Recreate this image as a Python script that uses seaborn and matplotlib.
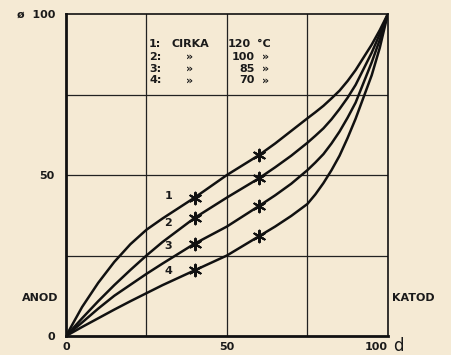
import matplotlib
matplotlib.use("Agg")
import matplotlib.pyplot as plt
import numpy as np
import pandas as pd
import seaborn as sns

# ---- data ----
d = [0, 5, 10, 15, 20, 25, 30, 40, 50, 60, 65, 70, 75, 77.5, 80, 82.5, 85, 87.5, 90, 95, 97.5, 100]
phi_1 = [0, 9, 16.5, 23, 28.5, 33, 36.5, 43, 50, 56.2, 59.8, 63.7, 67.6, 69.5, 71.5, 73.8, 76.2, 79.2, 82.6, 90.5, 95, 100]
phi_2 = [0, 5.5, 10.8, 15.8, 20.5, 25, 29.2, 36.7, 43, 49, 52.4, 56, 60, 62.2, 64.5, 67.3, 70.5, 74, 78, 88, 93.8, 100]
phi_3 = [0, 4.2, 8.5, 12.5, 15.9, 19.3, 22.5, 28.7, 34, 40.4, 43.7, 47.3, 51.5, 53.9, 56.5, 59.8, 63.5, 67.8, 72.5, 85, 92, 100]
phi_4 = [0, 2.8, 5.5, 8.2, 10.8, 13.3, 15.8, 20.4, 25, 31, 34, 37.3, 41, 44, 47.5, 51.5, 56, 61.5, 67.5, 81, 89.5, 100]
curve_ids = ["1", "2", "3", "4"]
temps = ["120", "100", "85", "70"]
marked_d = [40, 60]
x_ticks = [0, 50, 100]
y_ticks = [0, 50, 100]
x_ticklabels = ["0", "50", "100"]
y_ticklabels = ["0", "50", "ø  100"]

rows = []
for cid, ys in zip(curve_ids, [phi_1, phi_2, phi_3, phi_4]):
    for x, y in zip(d, ys):
        rows.append({"d": x, "phi": y, "curve": cid})
df = pd.DataFrame(rows)
marks = df[df["d"].isin(marked_d)]

bg = "#f5ead4"
sns.set_style("white")
plt.rcParams["font.family"] = ["DejaVu Sans"]

fig = plt.figure(figsize=(4.52, 3.55), dpi=100, facecolor=bg)
ax = fig.add_axes([0.146, 0.0535, 0.712, 0.907])
ax.set_facecolor(bg)

sns.lineplot(data=df, x="d", y="phi", hue="curve", palette=["#111111"] * 4,
             estimator=None, sort=False, linewidth=1.8, legend=False, ax=ax)
sns.scatterplot(data=marks, x="d", y="phi", marker=(6, 2, 0), s=70,
                color="#111111", linewidth=1.5, edgecolor="#111111",
                legend=False, ax=ax, zorder=5)

ax.set_xlim(0, 100)
ax.set_ylim(0, 100)
for v in [25, 50, 75]:
    ax.axvline(v, color="#222222", lw=0.9, zorder=0)
    ax.axhline(v, color="#222222", lw=0.9, zorder=0)
for s in ax.spines.values():
    s.set_color("#111111")
    s.set_linewidth(1.2)
ax.spines["left"].set_linewidth(2)
ax.spines["bottom"].set_linewidth(2)

tfont = dict(fontsize=8, fontweight="bold", color="#1a1a1a")
ax.set_xticks(x_ticks)
ax.set_xticklabels(x_ticklabels, **tfont)
ax.set_yticks(y_ticks)
ax.set_yticklabels(y_ticklabels, **tfont)
ax.tick_params(length=0, pad=4)
ax.tick_params(axis="y", pad=8)
ax.get_xticklabels()[-1].set_ha("right")
ax.set_xlabel("")
ax.set_ylabel("")

ax.text(101.5, -3.2, "d", fontsize=12, color="#1a1a1a", ha="left", va="center",
        clip_on=False)
ax.text(-2.5, 11.8, "ANOD", ha="right", va="center", clip_on=False, **tfont)
ax.text(101.2, 11.8, "KATOD", ha="left", va="center", clip_on=False, **tfont)

# temperature table
rows_y = [90.8, 86.8, 83.0, 79.4]
for i, (cid, t, yy) in enumerate(zip(curve_ids, temps, rows_y)):
    ax.text(25.8, yy, cid + ":", ha="left", va="center", **tfont)
    if i == 0:
        ax.text(32.8, yy, "CIRKA", ha="left", va="center", **tfont)
        ax.text(57.5, yy, t, ha="right", va="center", **tfont)
        ax.text(59.5, yy, "°C", ha="left", va="center", **tfont)
    else:
        ax.text(38.5, yy, "»", ha="center", va="center", **tfont)
        ax.text(58.7, yy, t, ha="right", va="center", **tfont)
        ax.text(61.0, yy, "»", ha="left", va="center", **tfont)

# curve numbers
for cid, yy in zip(curve_ids, [43.5, 35, 27.8, 20.3]):
    ax.text(31.8, yy, cid, ha="center", va="center", **tfont)

fig.savefig("out.png", dpi=100, facecolor=bg)
